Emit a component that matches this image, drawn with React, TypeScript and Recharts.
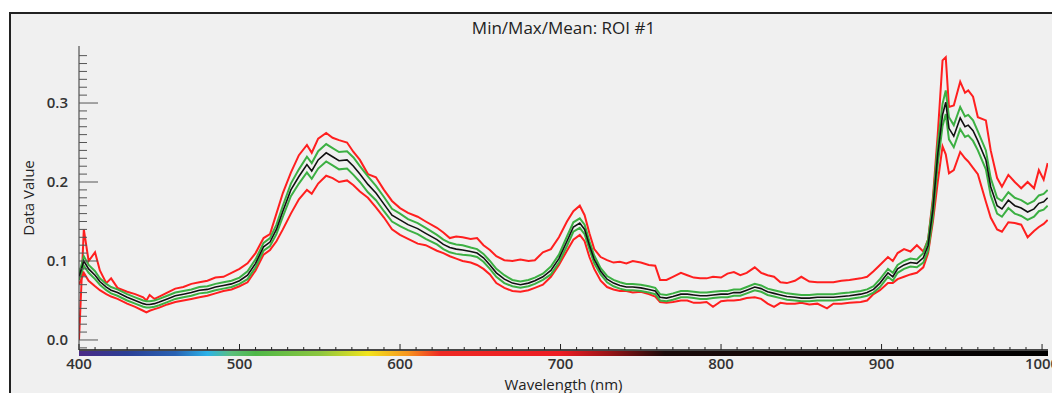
import React from 'react';
import { LineChart, Line, XAxis, YAxis } from 'recharts';

// Wavelength (nm) of each sampled band
const WAVELENGTH = [
  400, 403, 406, 410, 413, 417, 420, 424, 430, 435, 440, 442, 444, 447, 450, 455, 460, 465, 470, 475,
  480, 485, 490, 495, 500, 505, 510, 515, 519, 523, 527, 532, 537, 542, 545, 549, 554, 558, 562, 567,
  571, 575, 580, 585, 590, 595, 600, 605, 611, 616, 623, 627, 631, 635, 639, 644, 648, 652, 656, 660,
  665, 670, 675, 680, 684, 689, 694, 699, 704, 708, 712, 715, 718, 721, 725, 729, 733, 737, 741, 745,
  750, 755, 759, 762, 766, 770, 775, 779, 783, 787, 791, 795, 800, 804, 808, 812, 816, 821, 825, 829,
  833, 837, 841, 846, 850, 855, 860, 866, 870, 875, 880, 887, 891, 895, 899, 904, 907, 910, 914, 918,
  922, 926, 929, 932, 935, 938, 940, 942, 945, 949, 952, 954, 957, 960, 965, 968, 972, 975, 979, 983,
  987, 991, 995, 998, 1001, 1003.5,
];

const MAX_VALUE = [
  0.0, 0.14, 0.1, 0.111, 0.088, 0.072, 0.078, 0.066, 0.061, 0.058, 0.054, 0.05, 0.057, 0.052, 0.055, 0.06, 0.065, 0.067, 0.071, 0.073,
  0.075, 0.079, 0.08, 0.085, 0.09, 0.097, 0.11, 0.129, 0.134, 0.16, 0.186, 0.212, 0.234, 0.247, 0.237, 0.255, 0.262, 0.256, 0.253, 0.25,
  0.238, 0.228, 0.21, 0.206, 0.19, 0.176, 0.167, 0.161, 0.156, 0.15, 0.142, 0.136, 0.129, 0.131, 0.13, 0.128, 0.129, 0.12, 0.114, 0.106,
  0.101, 0.1, 0.102, 0.1, 0.101, 0.111, 0.115, 0.13, 0.15, 0.163, 0.17, 0.158, 0.135, 0.115, 0.105, 0.101, 0.098, 0.099, 0.097, 0.1,
  0.098, 0.095, 0.094, 0.076, 0.076, 0.08, 0.085, 0.082, 0.079, 0.078, 0.078, 0.08, 0.079, 0.084, 0.086, 0.082, 0.085, 0.092, 0.085, 0.082,
  0.08, 0.073, 0.072, 0.075, 0.08, 0.074, 0.073, 0.073, 0.073, 0.075, 0.076, 0.078, 0.08, 0.087, 0.095, 0.105, 0.1, 0.11, 0.115, 0.112,
  0.12, 0.112, 0.127, 0.18, 0.26, 0.354, 0.358, 0.295, 0.297, 0.327, 0.313, 0.316, 0.308, 0.282, 0.278, 0.24, 0.205, 0.194, 0.209, 0.2,
  0.192, 0.2, 0.192, 0.215, 0.203, 0.224,
];

const MEAN_VALUE = [
  0.08, 0.1, 0.09, 0.082, 0.074, 0.067, 0.063, 0.06, 0.054, 0.05, 0.046, 0.045, 0.045, 0.046, 0.048, 0.052, 0.056, 0.058, 0.06, 0.063,
  0.064, 0.067, 0.069, 0.071, 0.075, 0.082, 0.097, 0.118, 0.124, 0.14, 0.163, 0.19, 0.207, 0.222, 0.214, 0.228, 0.237, 0.232, 0.227, 0.228,
  0.22, 0.21, 0.197, 0.186, 0.172, 0.158, 0.152, 0.146, 0.141, 0.135, 0.127, 0.121, 0.117, 0.115, 0.114, 0.112, 0.11, 0.104, 0.095, 0.085,
  0.077, 0.072, 0.07, 0.072, 0.075, 0.08, 0.088, 0.103, 0.125, 0.143, 0.148, 0.14, 0.12, 0.102, 0.087, 0.077, 0.072, 0.069, 0.067, 0.067,
  0.066, 0.064, 0.062, 0.054, 0.053, 0.055, 0.058, 0.058, 0.057, 0.056, 0.056, 0.057, 0.058, 0.058, 0.06, 0.06, 0.063, 0.067, 0.065, 0.061,
  0.059, 0.057, 0.055, 0.054, 0.053, 0.053, 0.054, 0.054, 0.054, 0.055, 0.056, 0.058, 0.06, 0.064, 0.072, 0.085, 0.08, 0.09, 0.095, 0.098,
  0.097, 0.104, 0.12, 0.165, 0.235, 0.285, 0.301, 0.268, 0.258, 0.281, 0.27, 0.272, 0.265, 0.252, 0.228, 0.194, 0.17, 0.166, 0.177, 0.17,
  0.167, 0.162, 0.166, 0.173, 0.175, 0.18,
];

// Standard deviation around the mean (green band)
const STD_DEV = [
  0.004, 0.006, 0.005, 0.005, 0.004, 0.004, 0.004, 0.004, 0.004, 0.004, 0.004, 0.004, 0.004, 0.004, 0.004, 0.004, 0.004, 0.004, 0.004, 0.004,
  0.004, 0.004, 0.004, 0.004, 0.004, 0.005, 0.005, 0.005, 0.005, 0.006, 0.007, 0.008, 0.009, 0.01, 0.01, 0.011, 0.011, 0.011, 0.011, 0.011,
  0.011, 0.01, 0.01, 0.009, 0.009, 0.008, 0.008, 0.007, 0.007, 0.007, 0.006, 0.006, 0.006, 0.006, 0.006, 0.005, 0.005, 0.005, 0.005, 0.005,
  0.005, 0.004, 0.004, 0.004, 0.004, 0.004, 0.005, 0.005, 0.006, 0.006, 0.006, 0.006, 0.005, 0.005, 0.004, 0.004, 0.004, 0.004, 0.004, 0.004,
  0.004, 0.004, 0.004, 0.004, 0.004, 0.004, 0.004, 0.004, 0.004, 0.004, 0.004, 0.004, 0.004, 0.004, 0.004, 0.004, 0.004, 0.004, 0.004, 0.004,
  0.004, 0.004, 0.004, 0.004, 0.004, 0.004, 0.004, 0.004, 0.004, 0.004, 0.004, 0.004, 0.004, 0.004, 0.005, 0.005, 0.005, 0.005, 0.005, 0.005,
  0.005, 0.006, 0.007, 0.01, 0.013, 0.014, 0.015, 0.014, 0.014, 0.014, 0.013, 0.013, 0.013, 0.012, 0.012, 0.011, 0.01, 0.01, 0.01, 0.01,
  0.01, 0.01, 0.01, 0.01, 0.01, 0.01,
];

const MIN_VALUE = [
  0.07, 0.085, 0.075, 0.068, 0.063, 0.058, 0.055, 0.052, 0.046, 0.042, 0.037, 0.035, 0.037, 0.039, 0.041, 0.045, 0.048, 0.05, 0.052, 0.054,
  0.056, 0.059, 0.062, 0.064, 0.068, 0.073, 0.088, 0.108, 0.114, 0.125, 0.14, 0.16, 0.178, 0.19, 0.185, 0.198, 0.208, 0.205, 0.2, 0.202,
  0.196, 0.188, 0.18, 0.168, 0.155, 0.14, 0.133, 0.128, 0.122, 0.12, 0.113, 0.11, 0.106, 0.103, 0.1, 0.098, 0.095, 0.09, 0.083, 0.072,
  0.066, 0.062, 0.061, 0.063, 0.066, 0.07, 0.08, 0.095, 0.113, 0.127, 0.133, 0.125, 0.105, 0.09, 0.075, 0.067, 0.064, 0.062, 0.062, 0.06,
  0.061, 0.058, 0.055, 0.048, 0.047, 0.048, 0.05, 0.05, 0.047, 0.047, 0.048, 0.042, 0.049, 0.05, 0.05, 0.051, 0.053, 0.054, 0.052, 0.046,
  0.042, 0.047, 0.046, 0.046, 0.047, 0.045, 0.046, 0.04, 0.046, 0.046, 0.047, 0.048, 0.05, 0.058, 0.063, 0.072, 0.072, 0.077, 0.08, 0.083,
  0.085, 0.092, 0.11, 0.15, 0.2, 0.245, 0.235, 0.211, 0.215, 0.238, 0.23, 0.226, 0.218, 0.21, 0.175, 0.155, 0.14, 0.137, 0.149, 0.148,
  0.146, 0.13, 0.138, 0.143, 0.147, 0.152,
];

const X_DOMAIN: [number, number] = [400, 1003.7];
const Y_DOMAIN: [number, number] = [-0.0127, 0.3722];
const X_MAJOR_TICKS = [400, 500, 600, 700, 800, 900, 1000];
const Y_MAJOR_TICKS = [0.0, 0.1, 0.2, 0.3];
const X_TICKS = Array.from({ length: 61 }, (_, i) => 400 + i * 10);
const Y_TICKS = Array.from({ length: 38 }, (_, i) => Math.round((i - 1) * 10) / 1000);

const TITLE = 'Min/Max/Mean: ROI #1';
const X_LABEL = 'Wavelength (nm)';
const Y_LABEL = 'Data Value';

const data = WAVELENGTH.map((wl, i) => ({
  wl,
  max: MAX_VALUE[i],
  upper: MEAN_VALUE[i] + STD_DEV[i],
  mean: MEAN_VALUE[i],
  lower: MEAN_VALUE[i] - STD_DEV[i],
  min: MIN_VALUE[i],
}));

const FONT = '"Open Sans", "DejaVu Sans", sans-serif';
const TICK_COLOR = '#222';
const LABEL_COLOR = '#333';

const isMajorX = (v: number) => X_MAJOR_TICKS.includes(v);
const isMajorY = (v: number) => Y_MAJOR_TICKS.some((m) => Math.abs(m - v) < 1e-9);

const BOTTOM_MARGIN = 8;
const LEFT_MARGIN = 11;

const BottomTick = (props: any) => {
  const { x, y, payload } = props;
  const v = payload.value;
  const major = isMajorX(v);
  const axisY = y - BOTTOM_MARGIN;
  return (
    <g>
      <line x1={x} x2={x} y1={axisY} y2={axisY - (major ? 6 : 3)} stroke={TICK_COLOR} strokeWidth={1} />
      {major && (
        <text x={x} y={y} dy="0.74em" textAnchor="middle" fontFamily={FONT} fontSize={15} fontWeight={600} fill={LABEL_COLOR}>
          {v}
        </text>
      )}
    </g>
  );
};

const TopTick = (props: any) => {
  const { x, y, payload } = props;
  const major = isMajorX(payload.value);
  return <line x1={x} x2={x} y1={y} y2={y + (major ? 6 : 3)} stroke={TICK_COLOR} strokeWidth={1} />;
};

const LeftTick = (props: any) => {
  const { x, y, payload } = props;
  const v = payload.value;
  const major = isMajorY(v);
  const axisX = x + LEFT_MARGIN;
  return (
    <g>
      <line x1={axisX} x2={axisX + (major ? 19 : 8)} y1={y} y2={y} stroke="#555" strokeWidth={1} />
      {major && (
        <text x={x} y={y} dy="0.36em" textAnchor="end" fontFamily={FONT} fontSize={15} fontWeight={600} fill={LABEL_COLOR}>
          {v.toFixed(1)}
        </text>
      )}
    </g>
  );
};

const RightTick = (props: any) => {
  const { x, y, payload } = props;
  const major = isMajorY(payload.value);
  return <line x1={x} x2={x - (major ? 18 : 8)} y1={y} y2={y} stroke="#555" strokeWidth={1} />;
};

const YLabel = (props: any) => {
  const vb = props.viewBox || { x: 0, y: 46, width: 79, height: 304 };
  const cx = vb.x + 28;
  const cy = vb.y + vb.height / 2;
  return (
    <text x={cx} y={cy} transform={`rotate(-90, ${cx}, ${cy})`} textAnchor="middle" dominantBaseline="central" fontFamily={FONT} fontSize={15} fill="#222">
      {Y_LABEL}
    </text>
  );
};

const RED = '#ff1f1f';
const GREEN = '#3cb043';
const BLACK = '#111';

export default function App() {
  const spectrumStops = [
    ['#4a2a86', 400], ['#2b3f96', 430], ['#2a62b3', 460], ['#2bb2e8', 480], ['#5cbf7c', 495], ['#4fb848', 510],
    ['#8cc63f', 550], ['#f2e41c', 580], ['#f7941d', 605], ['#ee2a24', 625], ['#ed1c24', 700], ['#9a1417', 730],
    ['#1a0a0a', 765], ['#000000', 1003.7],
  ]
    .map(([c, nm]) => `${c} ${(((nm as number) - X_DOMAIN[0]) / (X_DOMAIN[1] - X_DOMAIN[0])) * 100}%`)
    .join(', ');

  return (
    <div style={{ position: 'absolute', left: 0, top: 0, width: 1052, height: 393, background: '#fff', overflow: 'hidden' }}>
      <div
        style={{
          position: 'absolute', left: 9, top: 12, width: 1043, height: 381, background: '#f0f0f0',
          borderTop: '2px solid #222', borderLeft: '2px solid #222', boxSizing: 'border-box',
        }}
      />
      <div
        style={{
          position: 'absolute', left: 0, top: 17, width: 1127, textAlign: 'center',
          fontFamily: FONT, fontSize: 17, color: '#222', lineHeight: '22px',
        }}
      >
        {TITLE}
      </div>
      <div
        style={{
          position: 'absolute', left: 79, top: 351, width: 969, height: 5,
          background: `linear-gradient(to right, ${spectrumStops})`,
        }}
      />
      <LineChart
        width={1052}
        height={393}
        data={data}
        margin={{ top: 46, right: 4, bottom: 0, left: 0 }}
        style={{ position: 'absolute', left: 0, top: 0 }}
      >
        <XAxis
          xAxisId="bottom"
          dataKey="wl"
          type="number"
          domain={X_DOMAIN}
          allowDataOverflow
          ticks={X_TICKS}
          interval={0}
          tickSize={0}
          tickMargin={BOTTOM_MARGIN}
          tickLine={false}
          tick={BottomTick}
          height={43}
          axisLine={{ stroke: '#111', strokeWidth: 1.5 }}
          label={{ value: X_LABEL, position: 'insideBottom', offset: 3, fontFamily: FONT, fontSize: 15, fill: '#222' }}
        />
        <XAxis
          xAxisId="top"
          orientation="top"
          dataKey="wl"
          type="number"
          domain={X_DOMAIN}
          allowDataOverflow
          ticks={X_TICKS}
          interval={0}
          tickSize={0}
          tickMargin={0}
          tickLine={false}
          tick={TopTick}
          height={0}
          axisLine={{ stroke: '#333', strokeWidth: 1 }}
        />
        <YAxis
          yAxisId="left"
          type="number"
          domain={Y_DOMAIN}
          allowDataOverflow
          ticks={Y_TICKS}
          interval={0}
          tickSize={0}
          tickMargin={LEFT_MARGIN}
          tickLine={false}
          tick={LeftTick}
          width={79}
          axisLine={{ stroke: '#333', strokeWidth: 1 }}
          label={<YLabel />}
        />
        <YAxis
          yAxisId="right"
          orientation="right"
          type="number"
          domain={Y_DOMAIN}
          allowDataOverflow
          ticks={Y_TICKS}
          interval={0}
          tickSize={0}
          tickMargin={0}
          tickLine={false}
          tick={RightTick}
          width={0}
          axisLine={{ stroke: '#333', strokeWidth: 1 }}
        />
        <Line xAxisId="bottom" yAxisId="left" dataKey="max" stroke={RED} strokeWidth={2} dot={false} isAnimationActive={false} type="linear" />
        <Line xAxisId="bottom" yAxisId="left" dataKey="min" stroke={RED} strokeWidth={2} dot={false} isAnimationActive={false} type="linear" />
        <Line xAxisId="bottom" yAxisId="left" dataKey="upper" stroke={GREEN} strokeWidth={2} dot={false} isAnimationActive={false} type="linear" />
        <Line xAxisId="bottom" yAxisId="left" dataKey="lower" stroke={GREEN} strokeWidth={2} dot={false} isAnimationActive={false} type="linear" />
        <Line xAxisId="bottom" yAxisId="left" dataKey="mean" stroke={BLACK} strokeWidth={1.6} dot={false} isAnimationActive={false} type="linear" />
      </LineChart>
    </div>
  );
}
